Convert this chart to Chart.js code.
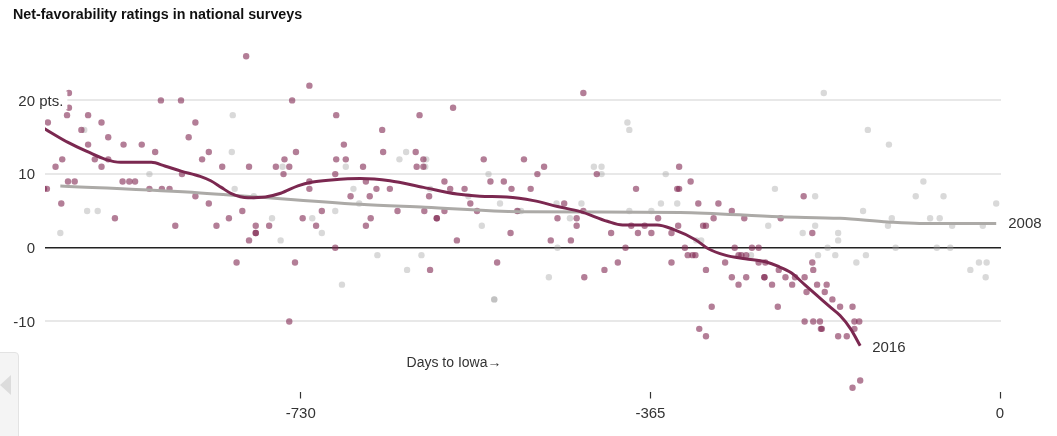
<!DOCTYPE html>
<html>
<head>
<meta charset="utf-8">
<script src="https://cdn.jsdelivr.net/npm/chart.js@4.4.1/dist/chart.umd.min.js"></script>
<style>
  body { margin: 0; background: #fff; }
  #wrap { position: relative; width: 1057px; height: 436px; overflow: hidden; }
  #ttl { position: absolute; left: 13px; top: 6px; line-height: 16px; font: bold 14.3px 'Liberation Sans', Arial, sans-serif; color: #111; white-space: nowrap; }
  #nav { position: absolute; left: -5px; top: 352px; width: 22px; height: 110px; background: #f4f4f4; border: 1px solid #e3e3e3; border-radius: 4px; }
  #nav div { position: absolute; left: 4px; top: 22px; width: 0; height: 0; border-top: 10px solid transparent; border-bottom: 10px solid transparent; border-right: 11px solid #dcdcdc; }
</style>
</head>
<body>
<div id="wrap">
  <canvas id="c" width="1057" height="436"></canvas>
  <div id="ttl">Net-favorability ratings in national surveys</div>
  <div id="nav"><div></div></div>
</div>
<script>
// days before Iowa caucus / net favorability (pts)
const days2016 = [-998,-995,-994,-986,-980,-979,-974,-972,-972,-973,-966,-959,-952,-952,-945,-938,-938,-931,-931,-924,-916,-915,-909,-903,-896,-888,-882,-876,-875,-867,-861,-855,-854,-847,-840,-840,-833,-826,-826,-818,-812,-805,-797,-791,-787,-784,-784,-777,-777,-777,-763,-756,-748,-747,-742,-742,-739,-736,-735,-728,-721,-721,-721,-714,-708,-694,-694,-693,-693,-685,-683,-678,-665,-662,-662,-658,-657,-651,-645,-644,-637,-629,-610,-609,-606,-602,-602,-601,-596,-595,-588,-588,-580,-580,-574,-571,-567,-559,-553,-546,-539,-532,-525,-518,-511,-510,-504,-497,-490,-483,-476,-469,-462,-455,-448,-442,-442,-435,-435,-434,-421,-413,-406,-399,-391,-385,-380,-378,-371,-364,-357,-343,-343,-337,-335,-335,-336,-329,-326,-321,-318,-323,-315,-314,-310,-307,-307,-307,-301,-299,-294,-287,-280,-280,-277,-273,-270,-273,-267,-265,-265,-259,-252,-252,-246,-246,-245,-238,-232,-231,-229,-224,-217,-214,-205,-204,-202,-204,-196,-196,-195,-195,-191,-188,-187,-186,-183,-181,-175,-169,-167,-160,-154,-152,-152,-147,-146,-154];
const vals2016 = [8,8,17,11,6,12,18,21,19,9,9,16,18,14,12,17,11,15,12,4,9,14,9,9,14,8,13,20,8,8,3,20,10,15,17,7,12,13,6,3,11,4,-2,5,26,11,1,3,2,2,3,11,10,12,11,-10,20,-2,13,4,22,9,8,3,5,10,0,18,12,14,12,7,11,9,3,7,4,8,16,13,8,5,13,11,18,11,12,5,7,-3,4,4,9,5,8,19,1,8,6,5,12,9,-2,9,2,8,5,12,8,10,11,1,4,6,1,4,3,21,5,-4,10,-3,2,-2,0,3,8,2,3,2,4,2,-2,8,8,11,3,0,-1,-1,-1,9,6,-11,3,3,-3,-12,-8,4,6,-2,5,-4,0,-1,-1,-5,4,-1,-4,0,0,-2,-4,-4,-2,-5,-8,-3,4,-4,-5,-4,7,-4,-6,-10,2,-2,-3,-10,-5,-10,-11,-11,-6,-5,-7,-12,-8,-12,-8,-10,-11,-10,-18,-19];

const days2008 = [-981,-956,-953,-942,-888,-802,-801,-799,-779,-760,-751,-749,-718,-708,-694,-687,-683,-675,-669,-650,-627,-620,-619,-604,-600,-599,-595,-555,-541,-534,-528,-528,-522,-503,-500,-471,-463,-462,-449,-437,-424,-416,-416,-389,-387,-387,-364,-354,-349,-337,-317,-312,-260,-242,-235,-206,-193,-193,-190,-184,-180,-172,-169,-169,-150,-143,-140,-138,-117,-116,-113,-109,-88,-80,-73,-66,-63,-59,-52,-50,-31,-22,-18,-15,-14,-4];
const vals2008 = [2,16,5,5,10,13,18,8,7,4,1,11,4,2,5,-5,11,8,6,-1,12,13,-3,-1,11,12,8,7,3,10,-7,-7,6,5,5,-4,6,0,4,6,11,11,10,17,16,5,5,6,10,6,1,1,-1,3,8,2,7,3,-1,21,0,-1,2,1,-2,5,-1,16,3,14,4,0,7,9,4,0,4,7,0,3,-3,-2,3,-4,-2,6];

// smoothed trend lines
const trendDays2016 = [-998,-973,-952,-934,-918,-886,-872,-855,-835,-824,-813,-803,-785,-767,-751,-733,-719,-698,-668,-637,-602,-567,-543,-515,-487,-462,-438,-410,-394,-358,-341,-318,-305,-287,-266,-245,-232,-218,-204,-190,-176,-167,-156,-146];
const trend2016 = [16.2,14.3,13,12,11.6,11.6,11.1,10.4,9.7,9.1,8.2,7.4,6.8,6.9,7.4,8.4,8.9,9.2,9.4,9.1,8.2,7.3,7.0,6.9,6.4,5.6,4.9,3.6,3.1,3.1,2.5,1.1,-0.1,-1.0,-1.5,-1.9,-2.5,-3.4,-5,-6.6,-8.2,-9.2,-11.0,-13.3];
const trendDays2008 = [-981,-835,-668,-600,-501,-334,-230,-167,-117,-84,-4];
const trend2008 = [8.4,7.45,5.9,5.5,4.9,4.8,4.2,4.0,3.5,3.3,3.3];

const xTicks = [-730, -365, 0];
const yTicks = [-10, 0, 10, 20];
const seriesNames = ['2016', '2008'];

const maroon = 'rgb(123,40,80)';
const FONT = "'Liberation Sans', Arial, sans-serif";

function pts(xs, ys) { return xs.map((x, i) => ({ x: x, y: ys[i] })); }

const labelPlugin = {
  id: 'labels',
  afterDraw(chart) {
    const ctx = chart.ctx, ys = chart.scales.y, xs = chart.scales.x;
    ctx.save();
    ctx.font = '15px ' + FONT;
    ctx.textBaseline = 'middle';
    ctx.textAlign = 'left';
    yTicks.forEach(v => {
      const y = ys.getPixelForValue(v);
      const num = String(v);
      const txt = v === yTicks[yTicks.length - 1] ? num + ' pts.' : num;
      const x0 = 35 - ctx.measureText(num).width;
      const w = ctx.measureText(txt).width;
      ctx.fillStyle = '#fff';
      ctx.fillRect(x0 - 2, y - 9, w + 6, 18);
      ctx.fillStyle = '#333';
      ctx.fillText(txt, x0, y + 1);
    });
    // end-of-line labels
    const ends = [[trendDays2016, trend2016, 2], [trendDays2008, trend2008, 0]];
    ends.forEach((e, i) => {
      const n = e[0].length - 1;
      const x = xs.getPixelForValue(e[0][n]);
      const y = ys.getPixelForValue(e[1][n]);
      ctx.fillStyle = '#333';
      ctx.fillText(seriesNames[i], x + 12, y + e[2]);
    });
    ctx.font = '14px ' + FONT;
    ctx.textAlign = 'center';
    ctx.fillText('Days to Iowa\u2192', 454, 363);
    ctx.restore();
  }
};

new Chart(document.getElementById('c'), {
  type: 'scatter',
  data: {
    datasets: [
      { label: '2016 trend', data: pts(trendDays2016, trend2016), showLine: true, borderColor: maroon, borderWidth: 3, pointRadius: 0, cubicInterpolationMode: 'monotone', order: 0 },
      { label: '2008 trend', data: pts(trendDays2008, trend2008), showLine: true, borderColor: 'rgb(172,170,167)', borderWidth: 3, pointRadius: 0, cubicInterpolationMode: 'monotone', order: 1 },
      { label: '2016', data: pts(days2016, vals2016), backgroundColor: 'rgba(128,40,82,0.6)', borderWidth: 0, pointRadius: 3.2, order: 2 },
      { label: '2008', data: pts(days2008, vals2008), backgroundColor: 'rgba(160,160,160,0.4)', borderWidth: 0, pointRadius: 3.2, order: 3 }
    ]
  },
  options: {
    responsive: false,
    animation: false,
    events: [],
    layout: { padding: { left: 45, right: 56, top: 26.7, bottom: 7.5 } },
    plugins: { legend: { display: false }, tooltip: { enabled: false } },
    scales: {
      x: {
        type: 'linear', min: -997, max: 1,
        afterBuildTicks: s => { s.ticks = xTicks.map(v => ({ value: v })); },
        border: { display: false },
        grid: { drawOnChartArea: false, drawTicks: true, tickLength: 7, tickColor: '#333', tickWidth: 1.2 },
        ticks: { padding: 6, color: '#333', font: { size: 15, family: FONT }, maxRotation: 0 }
      },
      y: {
        type: 'linear', min: -19.5, max: 30,
        afterBuildTicks: s => { s.ticks = yTicks.map(v => ({ value: v })); },
        border: { display: false },
        ticks: { display: false },
        grid: {
          drawTicks: false,
          color: c => (c.tick && c.tick.value === 0) ? '#222' : '#e8e8e8',
          lineWidth: c => (c.tick && c.tick.value === 0) ? 1.5 : 2
        }
      }
    }
  },
  plugins: [labelPlugin]
});
</script>
</body>
</html>
